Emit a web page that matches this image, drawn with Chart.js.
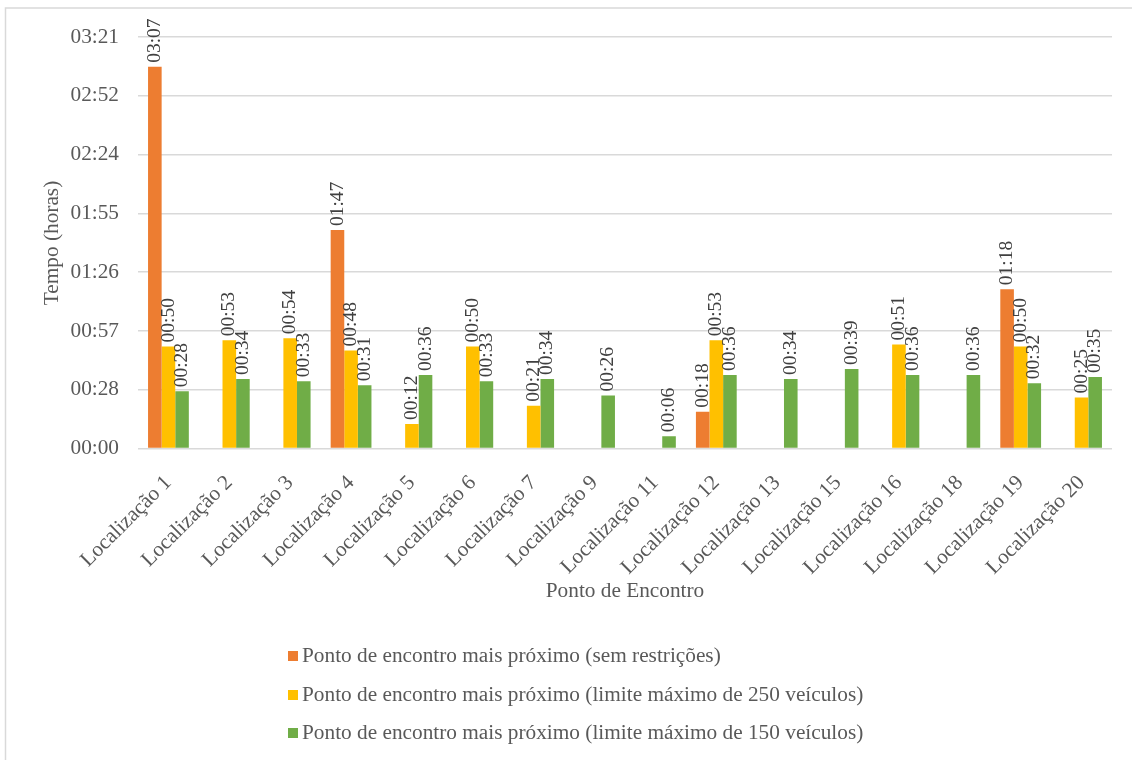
<!DOCTYPE html>
<html lang="pt">
<head>
<meta charset="utf-8">
<title>Tempo até ao ponto de encontro</title>
<script src="https://cdn.jsdelivr.net/npm/chart.js@4/dist/chart.umd.min.js"></script>
<style>
  html, body { margin: 0; padding: 0; background: #ffffff; }
  #chart { display: block; }
</style>
</head>
<body>
<canvas id="chart" width="1132" height="760"></canvas>
<script>
// Categories (meeting-point locations)
const categories = [
  'Localização 1', 'Localização 2', 'Localização 3', 'Localização 4',
  'Localização 5', 'Localização 6', 'Localização 7', 'Localização 9',
  'Localização 11', 'Localização 12', 'Localização 13', 'Localização 15',
  'Localização 16', 'Localização 18', 'Localização 19', 'Localização 20'
];

// Travel time in minutes for each scenario (null = no value)
const semRestricoes = [187, null, null, 107, null, null, null, null, null, 18, null, null, null, null, 78, null];
const limite250     = [50, 53, 54, 48, 12, 50, 21, null, null, 53, null, null, 51, null, 50, 25];
const limite150     = [28, 34, 33, 31, 36, 33, 34, 26, 6, 36, 34, 39, 36, 36, 32, 35];

// Series names
const seriesNames = [
  'Ponto de encontro mais próximo (sem restrições)',
  'Ponto de encontro mais próximo (limite máximo de 250 veículos)',
  'Ponto de encontro mais próximo (limite máximo de 150 veículos)'
];

// Y axis: ticks every 0.02 day (28.8 min)
const yTickLabels = ['00:00', '00:28', '00:57', '01:26', '01:55', '02:24', '02:52', '03:21'];
const yStep = 28.8;
const yMax = 201.6;

const axisTitleX = 'Ponto de Encontro';
const axisTitleY = 'Tempo (horas)';

const colors = ['#ED7D31', '#FFC000', '#70AD47'];
const FONT = "'Liberation Serif', 'Times New Roman', serif";
const FSIZE = 21.3;
const LABEL_FSIZE = 19.5;

function hhmm(minutes) {
  const h = Math.floor(minutes / 60);
  const m = Math.round(minutes - h * 60);
  return String(h).padStart(2, '0') + ':' + String(m).padStart(2, '0');
}

// Frame, background, axis titles and legend
const decorations = {
  id: 'decorations',
  beforeDraw(chart) {
    const ctx = chart.ctx;
    ctx.save();
    ctx.fillStyle = '#ffffff';
    ctx.fillRect(0, 0, chart.width, chart.height);
    ctx.strokeStyle = '#d9d9d9';
    ctx.lineWidth = 1.5;
    ctx.strokeRect(5.5, 8, chart.width + 20, chart.height + 20);
    ctx.restore();
  },
  afterDraw(chart) {
    const ctx = chart.ctx;
    const area = chart.chartArea;
    ctx.save();
    ctx.fillStyle = '#595959';
    ctx.font = FSIZE + 'px ' + FONT;
    // y title
    ctx.save();
    ctx.translate(52, 243);
    ctx.rotate(-Math.PI / 2);
    ctx.textAlign = 'center';
    ctx.textBaseline = 'middle';
    ctx.fillText(axisTitleY, 0, 0);
    ctx.restore();
    // x title
    ctx.textAlign = 'center';
    ctx.textBaseline = 'middle';
    ctx.fillText(axisTitleX, (area.left + area.right) / 2, 591);
    // legend
    const rows = [656, 695, 733];
    chart.data.datasets.forEach((ds, i) => {
      ctx.fillStyle = ds.backgroundColor;
      ctx.fillRect(288, rows[i] - 5, 10, 10);
      ctx.fillStyle = '#595959';
      ctx.textAlign = 'left';
      ctx.textBaseline = 'middle';
      ctx.fillText(ds.label, 302, rows[i]);
    });
    ctx.restore();
  }
};

// Vertical value labels above each bar
const barLabels = {
  id: 'barLabels',
  afterDatasetsDraw(chart) {
    const ctx = chart.ctx;
    ctx.save();
    ctx.font = LABEL_FSIZE + 'px ' + FONT;
    ctx.fillStyle = '#404040';
    ctx.textAlign = 'left';
    ctx.textBaseline = 'middle';
    chart.data.datasets.forEach((ds, di) => {
      const meta = chart.getDatasetMeta(di);
      meta.data.forEach((el, i) => {
        const v = ds.data[i];
        if (v === null || v === undefined) return;
        ctx.save();
        ctx.translate(el.x, el.y - 4);
        ctx.rotate(-Math.PI / 2);
        ctx.fillText(hhmm(v), 0, 0);
        ctx.restore();
      });
    });
    ctx.restore();
  }
};

Chart.defaults.font.family = FONT;
Chart.defaults.font.size = FSIZE;
Chart.defaults.color = '#595959';

new Chart(document.getElementById('chart'), {
  type: 'bar',
  data: {
    labels: categories,
    datasets: [
      { label: seriesNames[0], data: semRestricoes, backgroundColor: colors[0] },
      { label: seriesNames[1], data: limite250, backgroundColor: colors[1] },
      { label: seriesNames[2], data: limite150, backgroundColor: colors[2] }
    ]
  },
  options: {
    responsive: false,
    animation: false,
    devicePixelRatio: 1,
    layout: { padding: { left: 0, top: 37, right: 20, bottom: 141.5 } },
    datasets: { bar: { categoryPercentage: 0.67, barPercentage: 1.0 } },
    plugins: {
      legend: { display: false },
      tooltip: { enabled: false }
    },
    scales: {
      x: {
        grid: { display: false },
        border: { display: false },
        ticks: {
          autoSkip: false,
          minRotation: 45,
          maxRotation: 45,
          padding: 14,
          color: '#595959',
          font: { size: FSIZE, family: FONT }
        },
        afterFit(scale) { scale.height = 170; }
      },
      y: {
        min: 0,
        max: yMax,
        grid: { color: '#d9d9d9', lineWidth: 1.5, drawTicks: false },
        border: { display: false },
        ticks: {
          stepSize: yStep,
          padding: 19,
          color: '#595959',
          font: { size: FSIZE, family: FONT },
          callback(value, index) { return yTickLabels[index]; }
        },
        afterFit(scale) { scale.width = 138; }
      }
    }
  },
  plugins: [decorations, barLabels]
});
</script>
</body>
</html>
